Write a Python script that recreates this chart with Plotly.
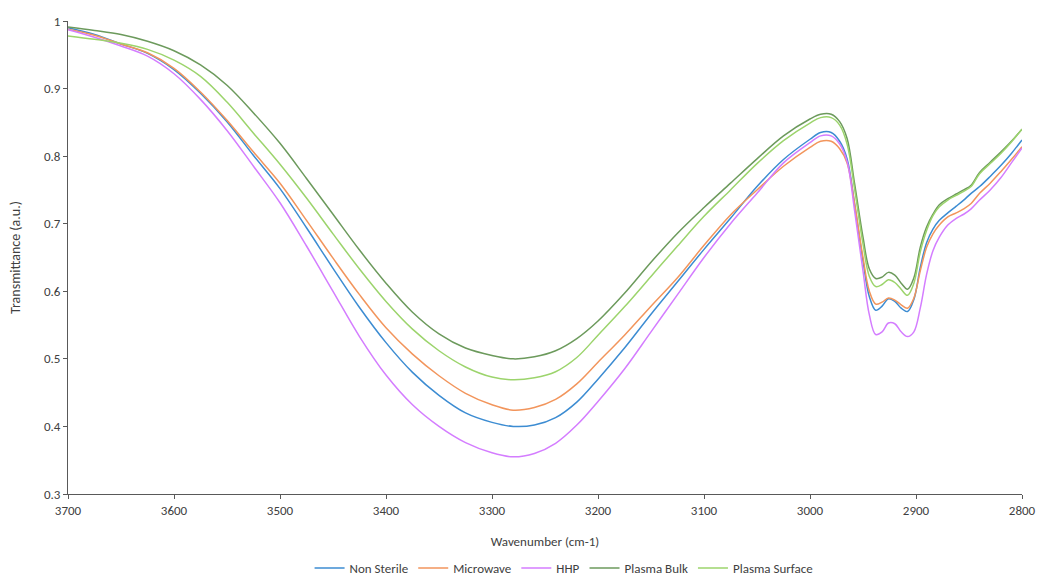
import plotly.graph_objects as go

wavenumber = [3700, 3675, 3650, 3625, 3600, 3575, 3550, 3525, 3500, 3475, 3450, 3425, 3400,
              3375, 3350, 3325, 3300, 3280, 3260, 3240, 3220, 3200, 3175, 3150, 3125, 3100,
              3075, 3050, 3025, 3000, 2990, 2980, 2972, 2965, 2958, 2950, 2944, 2938, 2932,
              2926, 2920, 2914, 2908, 2902, 2896, 2890, 2884, 2878, 2870, 2862, 2855, 2848,
              2840, 2830, 2820, 2810, 2800]

non_sterile = [0.990, 0.980, 0.966, 0.952, 0.928, 0.893, 0.851, 0.801, 0.752, 0.694, 0.634, 0.576, 0.524,
               0.480, 0.446, 0.420, 0.406, 0.400, 0.402, 0.413, 0.436, 0.470, 0.516, 0.566, 0.614, 0.662,
               0.708, 0.755, 0.795, 0.825, 0.835, 0.835, 0.822, 0.796, 0.730, 0.645, 0.592, 0.572, 0.578,
               0.589, 0.585, 0.575, 0.570, 0.588, 0.635, 0.672, 0.692, 0.705, 0.716, 0.726, 0.735, 0.745,
               0.755, 0.770, 0.786, 0.804, 0.824]

microwave = [0.988, 0.979, 0.966, 0.953, 0.930, 0.895, 0.853, 0.806, 0.760, 0.705, 0.649, 0.595, 0.546,
             0.507, 0.475, 0.449, 0.432, 0.424, 0.428, 0.440, 0.463, 0.495, 0.535, 0.578, 0.620, 0.668,
             0.713, 0.750, 0.785, 0.813, 0.822, 0.822, 0.811, 0.790, 0.730, 0.650, 0.600, 0.581, 0.584,
             0.590, 0.587, 0.580, 0.575, 0.590, 0.630, 0.665, 0.685, 0.698, 0.710, 0.716, 0.722, 0.730,
             0.745, 0.760, 0.777, 0.795, 0.814]

hhp = [0.987, 0.976, 0.963, 0.948, 0.922, 0.884, 0.838, 0.785, 0.731, 0.667, 0.600, 0.533, 0.476,
       0.432, 0.400, 0.376, 0.361, 0.355, 0.360, 0.375, 0.402, 0.437, 0.485, 0.540, 0.595, 0.650,
       0.700, 0.745, 0.790, 0.820, 0.830, 0.830, 0.818, 0.792, 0.720, 0.630, 0.565, 0.536, 0.540,
       0.553, 0.552, 0.540, 0.533, 0.540, 0.575, 0.625, 0.660, 0.680, 0.698, 0.708, 0.714, 0.722,
       0.735, 0.750, 0.768, 0.790, 0.812]

plasma_bulk = [0.991, 0.986, 0.980, 0.970, 0.956, 0.935, 0.905, 0.864, 0.819, 0.767, 0.714, 0.661, 0.612,
               0.569, 0.537, 0.516, 0.505, 0.500, 0.503, 0.512, 0.530, 0.556, 0.597, 0.643, 0.686, 0.724,
               0.760, 0.796, 0.830, 0.855, 0.862, 0.862, 0.851, 0.826, 0.760, 0.680, 0.633, 0.619, 0.621,
               0.628, 0.624, 0.612, 0.603, 0.620, 0.665, 0.695, 0.714, 0.728, 0.737, 0.744, 0.750, 0.757,
               0.776, 0.791, 0.806, 0.822, 0.840]

plasma_surface = [0.978, 0.973, 0.967, 0.958, 0.942, 0.918, 0.880, 0.834, 0.788, 0.738, 0.685, 0.633, 0.585,
                  0.544, 0.512, 0.488, 0.473, 0.469, 0.472, 0.481, 0.502, 0.535, 0.577, 0.622, 0.667, 0.711,
                  0.750, 0.789, 0.823, 0.849, 0.857, 0.857, 0.846, 0.818, 0.752, 0.670, 0.622, 0.607, 0.610,
                  0.617, 0.613, 0.603, 0.594, 0.612, 0.658, 0.690, 0.712, 0.725, 0.735, 0.742, 0.748, 0.755,
                  0.774, 0.789, 0.804, 0.821, 0.840]

series = [
    ("Non Sterile", non_sterile, "#3C8CD2"),
    ("Microwave", microwave, "#F2955C"),
    ("HHP", hhp, "#D47DFF"),
    ("Plasma Bulk", plasma_bulk, "#6C9A5C"),
    ("Plasma Surface", plasma_surface, "#9CD46C"),
]

x_ticks = [3700, 3600, 3500, 3400, 3300, 3200, 3100, 3000, 2900, 2800]
y_ticks = [0.3, 0.4, 0.5, 0.6, 0.7, 0.8, 0.9, 1]

FONT = "Carlito, Lato, 'Liberation Sans', sans-serif"

fig = go.Figure()
for name, vals, color in series:
    fig.add_trace(go.Scatter(x=wavenumber, y=vals, name=name, mode="lines",
                             line=dict(color=color, width=1.5, shape="spline", smoothing=1.0)))

axis_common = dict(showline=True, linecolor="#595959", linewidth=1, ticks="outside",
                   ticklen=4, tickcolor="#595959", showgrid=False, zeroline=False,
                   automargin=False,
                   tickfont=dict(family=FONT, size=13, color="#404040"))

fig.update_layout(
    width=1037, height=576,
    paper_bgcolor="white", plot_bgcolor="white",
    margin=dict(l=68, r=15, t=21, b=82),
    font=dict(family=FONT, size=13, color="#404040"),
    xaxis=dict(range=[3700, 2800], tickvals=x_ticks, ticktext=[str(t) for t in x_ticks],
               title=dict(text="Wavenumber (cm-1)", standoff=20,
                          font=dict(family=FONT, size=13, color="#404040")),
               **axis_common),
    yaxis=dict(range=[0.3, 1.0], tickvals=y_ticks, ticktext=["0.3", "0.4", "0.5", "0.6", "0.7", "0.8", "0.9", "1"],
               title=dict(text="Transmittance (a.u.)", standoff=20,
                          font=dict(family=FONT, size=14, color="#404040")),
               **axis_common),
    legend=dict(orientation="h", x=0.52, xanchor="center", yref="container", y=0.014, yanchor="middle",
                font=dict(family=FONT, size=13, color="#404040"), itemwidth=30,
                bgcolor="rgba(0,0,0,0)"),
    showlegend=True,
)

fig.write_html("out.html")
